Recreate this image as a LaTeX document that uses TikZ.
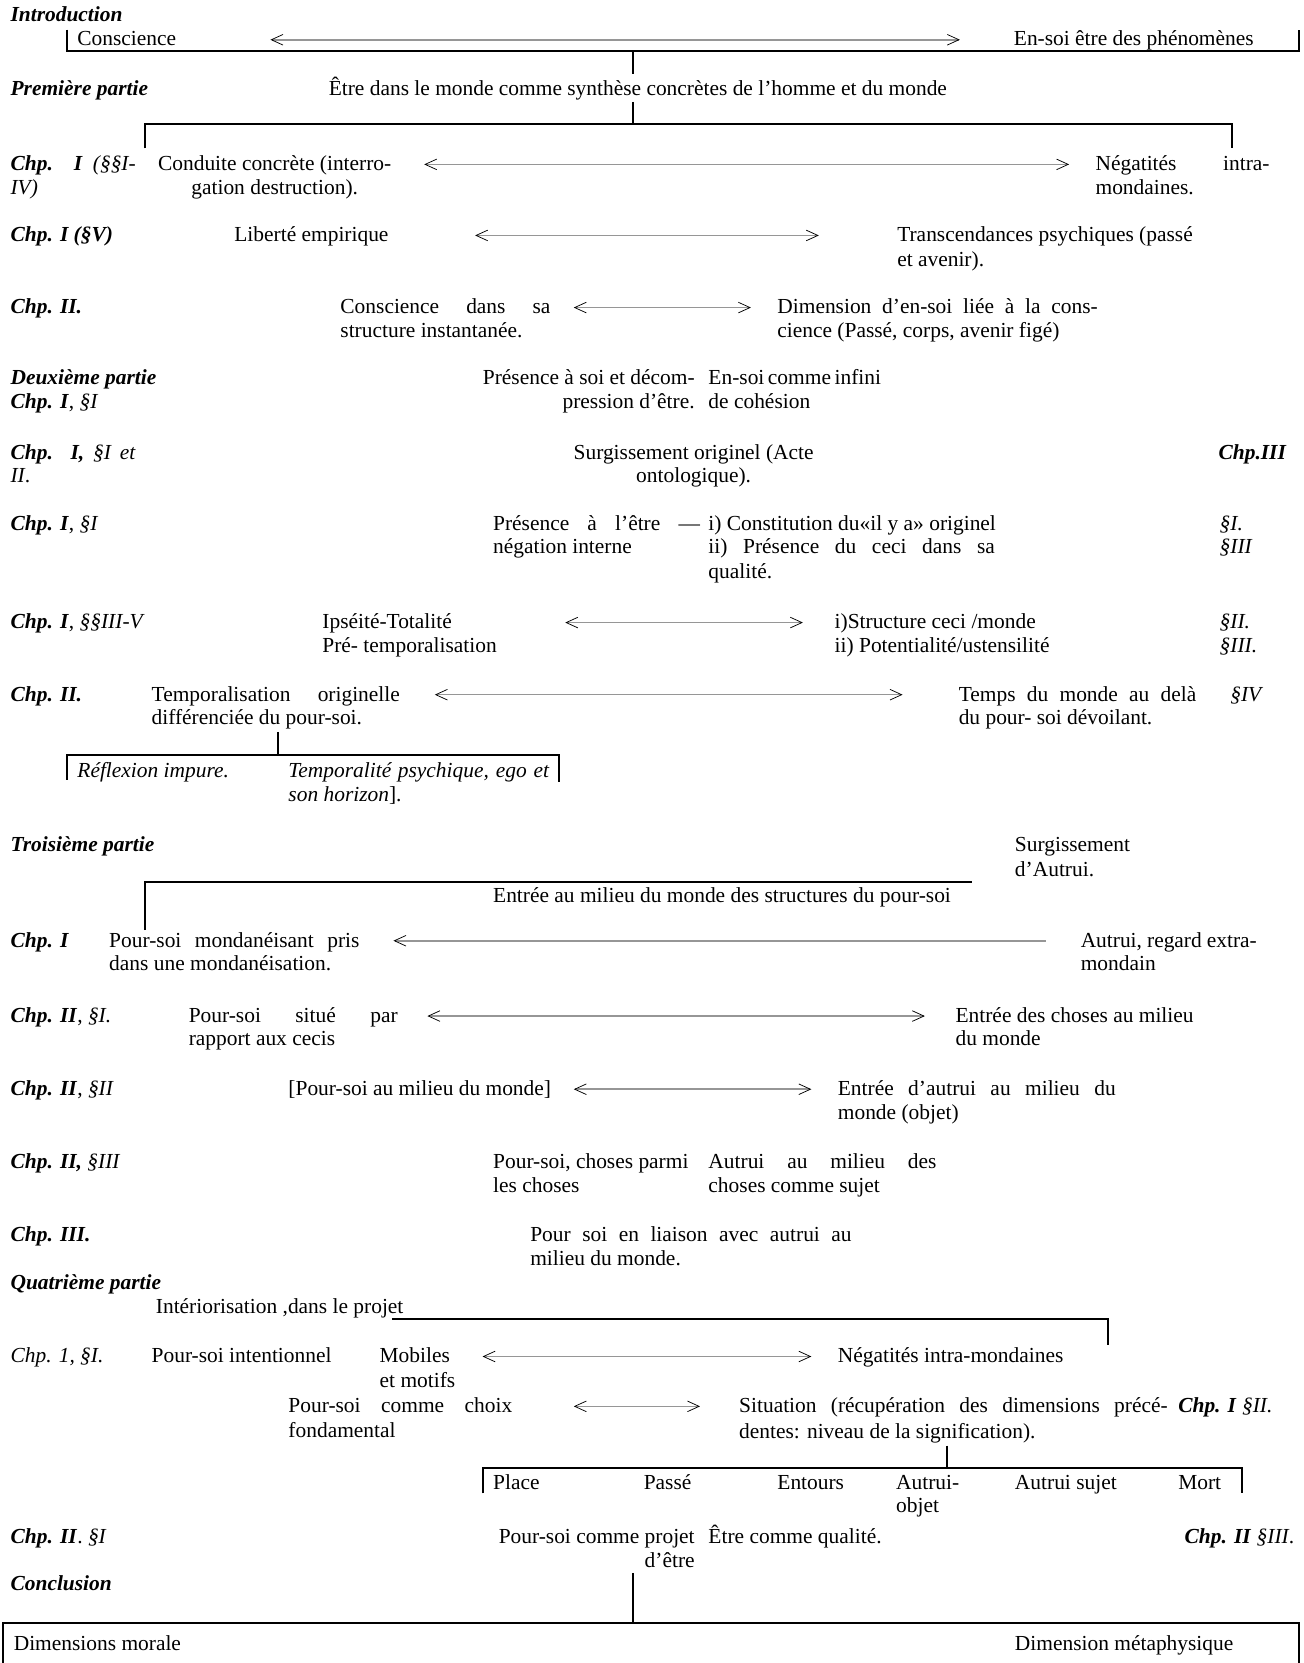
\documentclass[tikz,border=0pt]{standalone}
\usepackage{fontspec}
\setmainfont{Liberation Serif}
\usetikzlibrary{arrows.meta}
\definecolor{relgray}{RGB}{150,150,150}
\newcommand\bfit[1]{\textbf{\textit{#1}}}
\newcommand\jus[2]{\makebox[#1pt][s]{#2}}
\newcommand\mytext[5][]{\node[txt,#1] (#2) at (#3,#4) {#5};}
\tikzset{
  txt/.style={anchor=base west, inner sep=0pt, outer sep=0pt, font=\fontsize{20.2}{22.5}\selectfont},
  rt/.style={anchor=base east},
  ct/.style={anchor=base},
  brk/.style={draw=black, line width=1.8pt},
  barb/.tip={Straight Barb[length=11pt,width=10pt,line width=0.7pt,color=black]},
  rel/.style={draw=relgray, line width=1.5pt, barb-barb},
  rell/.style={draw=relgray, line width=1.5pt, barb-},
}
\begin{document}
\begin{tikzpicture}[x=1pt,y=-1pt]
\useasboundingbox[fill=white] (0,0) rectangle (1229,1568);

% ---------- Introduction
\mytext{intro}{10}{20}{\bfit{Introduction}}
\mytext{consc}{73}{43}{Conscience}
\mytext{ensoi}{956}{43}{En-soi être des phénomènes}
\coordinate (a1l) at (255,37.5); \coordinate (a1r) at (905,37.5);
\draw[rel] (a1l) -- (a1r);
\coordinate (b1a) at (63,28); \coordinate (b1b) at (63,48);
\coordinate (b1c) at (1225,48); \coordinate (b1d) at (1225,28);
\draw[brk] (b1a) -- (b1b) -- (b1c) -- (b1d);
\coordinate (v1a) at (597,48); \coordinate (v1b) at (597,70);
\draw[brk] (v1a) -- (v1b);

% ---------- Premiere partie
\mytext{p1}{10}{90}{\bfit{Première partie}}
\mytext{p1t}{310}{90}{Être dans le monde comme synthèse concrètes de l’homme et du monde}
\coordinate (v2a) at (597,96); \coordinate (v2b) at (597,117);
\draw[brk] (v2a) -- (v2b);
\coordinate (b2a) at (137,140); \coordinate (b2b) at (137,117);
\coordinate (b2c) at (1162,117); \coordinate (b2d) at (1162,140);
\draw[brk] (b2a) -- (b2b) -- (b2c) -- (b2d);

% ---------- Chp I (I-IV)
\mytext{c1a}{10}{161}{\jus{118}{\bfit{Chp. I} \textit{(§§I-}}}
\mytext{c1b}{10}{183}{\textit{IV)}}
\mytext[ct]{c1c}{259}{161}{Conduite concrète (interro-}
\mytext[ct]{c1d}{259}{183}{gation destruction).}
\coordinate (a2l) at (400,155); \coordinate (a2r) at (1008,155);
\draw[rel] (a2l) -- (a2r);
\mytext{c1e}{1033}{161}{\jus{164}{Négatités intra-}}
\mytext{c1f}{1033}{183}{mondaines.}

% ---------- Chp I (V)
\mytext{c2a}{10}{228}{\bfit{Chp. I (§V)}}
\mytext{c2b}{221}{228}{Liberté empirique}
\coordinate (a3l) at (448,222); \coordinate (a3r) at (772,222);
\draw[rel] (a3l) -- (a3r);
\mytext{c2c}{846}{228}{Transcendances psychiques (passé}
\mytext{c2d}{846}{251}{et avenir).}

% ---------- Chp II
\mytext{c3a}{10}{296}{\bfit{Chp. II.}}
\mytext{c3b}{321}{296}{\jus{198}{Conscience dans sa}}
\mytext{c3c}{321}{318}{structure instantanée.}
\coordinate (a4l) at (541,290); \coordinate (a4r) at (708,290);
\draw[rel] (a4l) -- (a4r);
\mytext{c3d}{733}{296}{\jus{302}{Dimension d’en-soi liée à la cons-}}
\mytext{c3e}{733}{318}{cience (Passé, corps, avenir figé)}

% ---------- Deuxieme partie
\mytext{p2}{10}{363}{\bfit{Deuxième partie}}
\mytext{p2a}{10}{385}{\bfit{Chp. I}, \textit{§I}}
\mytext[rt]{p2b}{655}{363}{Présence à soi et décom-}
\mytext[rt]{p2c}{655}{385}{pression d’être.}
\mytext{p2d}{668}{363}{\jus{159}{En-soi comme infini}}
\mytext{p2e}{668}{385}{de cohésion}

% ---------- Chp I, I et II
\mytext{d1a}{10}{433}{\jus{118}{\bfit{Chp. I,} \textit{§I et}}}
\mytext{d1b}{10}{455}{\textit{II}.}
\mytext[ct]{d1c}{654}{433}{Surgissement originel (Acte}
\mytext[ct]{d1d}{654}{455}{ontologique).}
\mytext[rt]{d1e}{1213}{433}{\bfit{Chp.III}}

% ---------- Chp I, I
\mytext{d2a}{10}{500}{\bfit{Chp. I}, \textit{§I}}
\mytext{d2b}{465}{500}{\jus{195}{Présence à l’être —}}
\mytext{d2c}{465}{522}{négation interne}
\mytext{d2d}{668}{500}{i) Constitution du«il y a» originel}
\mytext{d2e}{668}{522}{\jus{270}{ii) Présence du ceci dans sa}}
\mytext{d2f}{668}{545}{qualité.}
\mytext{d2g}{1150}{500}{\textit{§I.}}
\mytext{d2h}{1150}{522}{\textit{§III}}

% ---------- Chp I, III-V
\mytext{d3a}{10}{593}{\bfit{Chp. I}, \textit{§§III-V}}
\mytext{d3b}{304}{593}{Ipséité-Totalité}
\mytext{d3c}{304}{615}{Pré- temporalisation}
\coordinate (a5l) at (533,587); \coordinate (a5r) at (757,587);
\draw[rel] (a5l) -- (a5r);
\mytext{d3d}{787}{593}{i)Structure ceci /monde}
\mytext{d3e}{787}{615}{ii) Potentialité/ustensilité}
\mytext{d3f}{1150}{593}{\textit{§II.}}
\mytext{d3g}{1150}{615}{\textit{§III.}}

% ---------- Chp II
\mytext{d4a}{10}{661}{\bfit{Chp. II.}}
\mytext{d4b}{143}{661}{\jus{234}{Temporalisation originelle}}
\mytext{d4c}{143}{683}{différenciée du pour-soi.}
\coordinate (a6l) at (410,655); \coordinate (a6r) at (851,655);
\draw[rel] (a6l) -- (a6r);
\mytext{d4d}{904}{661}{\jus{224}{Temps du monde au delà}}
\mytext{d4e}{904}{683}{du pour- soi dévoilant.}
\mytext{d4f}{1160}{661}{\textit{§IV}}

% reflexion bracket
\coordinate (v3a) at (262,690); \coordinate (v3b) at (262,712);
\draw[brk] (v3a) -- (v3b);
\coordinate (b3a) at (63,735); \coordinate (b3b) at (63,712);
\coordinate (b3c) at (527,712); \coordinate (b3d) at (527,737);
\draw[brk] (b3a) -- (b3b) -- (b3c) -- (b3d);
\mytext{r1}{73}{733}{\textit{Réflexion impure.}}
\mytext{r2}{272}{733}{\jus{246}{\textit{Temporalité psychique, ego et}}}
\mytext{r3}{272}{756}{\textit{son horizon}].}

% ---------- Troisieme partie
\mytext{p3}{10}{803}{\bfit{Troisième partie}}
\mytext{p3a}{957}{803}{Surgissement}
\mytext{p3b}{957}{826}{d’Autrui.}
\coordinate (b4a) at (137,877); \coordinate (b4b) at (137,832);
\coordinate (b4c) at (916,832);
\draw[brk] (b4a) -- (b4b) -- (b4c);
\mytext{p3c}{465}{851}{Entrée au milieu du monde des structures du pour-soi}

\mytext{e1a}{10}{893}{\bfit{Chp. I}}
\mytext{e1b}{103}{893}{\jus{236}{Pour-soi mondanéisant pris}}
\mytext{e1c}{103}{915}{dans une mondanéisation.}
\coordinate (a7l) at (371,887); \coordinate (a7r) at (986,887);
\draw[rell] (a7l) -- (a7r);
\mytext{e1d}{1019}{893}{\jus{166}{Autrui, regard extra-}}
\mytext{e1e}{1019}{915}{mondain}

\mytext{e2a}{10}{964}{\bfit{Chp. II}, \textit{§I.}}
\mytext{e2b}{178}{964}{\jus{197}{Pour-soi situé par}}
\mytext{e2c}{178}{986}{rapport aux cecis}
\coordinate (a8l) at (403,958); \coordinate (a8r) at (872,958);
\draw[rel] (a8l) -- (a8r);
\mytext{e2d}{901}{964}{Entrée des choses au milieu}
\mytext{e2e}{901}{986}{du monde}

\mytext{e3a}{10}{1033}{\bfit{Chp. II}, \textit{§II}}
\mytext{e3b}{272}{1033}{[Pour-soi au milieu du monde]}
\coordinate (a9l) at (541,1027); \coordinate (a9r) at (765,1027);
\draw[rel] (a9l) -- (a9r);
\mytext{e3c}{790}{1033}{\jus{262}{Entrée d’autrui au milieu du}}
\mytext{e3d}{790}{1056}{monde (objet)}

\mytext{e4a}{10}{1102}{\bfit{Chp. II,} \textit{§III}}
\mytext{e4b}{465}{1102}{Pour-soi, choses parmi}
\mytext{e4c}{465}{1124}{les choses}
\mytext{e4d}{668}{1102}{\jus{215}{Autrui au milieu des}}
\mytext{e4e}{668}{1124}{choses comme sujet}

\mytext{e5a}{10}{1171}{\bfit{Chp. III.}}
\mytext{e5b}{500}{1171}{\jus{303}{Pour soi en liaison avec autrui au}}
\mytext{e5c}{500}{1193}{milieu du monde.}

% ---------- Quatrieme partie
\mytext{p4}{10}{1216}{\bfit{Quatrième partie}}
\mytext{p4a}{147}{1238}{Intériorisation ,dans le projet}
\coordinate (b5a) at (370,1244); \coordinate (b5b) at (1045,1244);
\coordinate (b5c) at (1045,1268);
\draw[brk] (b5a) -- (b5b) -- (b5c);

\mytext{f1a}{10}{1285}{\textit{Chp. 1, §I.}}
\mytext{f1b}{143}{1285}{Pour-soi intentionnel}
\mytext{f1c}{358}{1285}{Mobiles}
\mytext{f1d}{358}{1308}{et motifs}
\coordinate (a10l) at (455,1279); \coordinate (a10r) at (765,1279);
\draw[rel] (a10l) -- (a10r);
\mytext{f1e}{790}{1285}{Négatités intra-mondaines}

\mytext{f2a}{272}{1332}{\jus{211}{Pour-soi comme choix}}
\mytext{f2b}{272}{1355}{fondamental}
\coordinate (a11l) at (541,1326); \coordinate (a11r) at (660,1326);
\draw[rel] (a11l) -- (a11r);
\mytext{f2c}{697}{1332}{\jus{404}{Situation (récupération des dimensions précé-}}
\mytext{f2d}{697}{1356}{dentes: niveau de la signification).}
\mytext{f2e}{1111}{1332}{\bfit{Chp. I} \textit{§II.}}

\coordinate (v4a) at (893,1363); \coordinate (v4b) at (893,1384);
\draw[brk] (v4a) -- (v4b);
\coordinate (b6a) at (455,1408); \coordinate (b6b) at (455,1384);
\coordinate (b6c) at (1171,1384); \coordinate (b6d) at (1171,1408);
\draw[brk] (b6a) -- (b6b) -- (b6c) -- (b6d);
\mytext{g1}{465}{1404}{Place}
\mytext{g2}{607}{1404}{Passé}
\mytext{g3}{733}{1404}{Entours}
\mytext{g4}{845}{1404}{Autrui-}
\mytext{g4b}{845}{1426}{objet}
\mytext{g5}{957}{1404}{Autrui sujet}
\mytext{g6}{1111}{1404}{Mort}

\mytext{h1a}{10}{1455}{\bfit{Chp. II}. \textit{§I}}
\mytext[rt]{h1b}{655}{1455}{Pour-soi comme projet}
\mytext[rt]{h1c}{655}{1478}{d’être}
\mytext{h1d}{668}{1455}{Être comme qualité.}
\mytext{h1e}{1117}{1455}{\bfit{Chp. II} \textit{§III}.}

% ---------- Conclusion
\mytext{concl}{10}{1500}{\bfit{Conclusion}}
\coordinate (v5a) at (597,1483); \coordinate (v5b) at (597,1530);
\draw[brk] (v5a) -- (v5b);
\coordinate (b7a) at (3,1568); \coordinate (b7b) at (3,1530);
\coordinate (b7c) at (1225,1530); \coordinate (b7d) at (1225,1568);
\draw[brk] (b7a) -- (b7b) -- (b7c) -- (b7d);
\mytext{k1}{13}{1556}{Dimensions morale}
\mytext{k2}{957}{1556}{Dimension métaphysique}
\end{tikzpicture}
\end{document}
